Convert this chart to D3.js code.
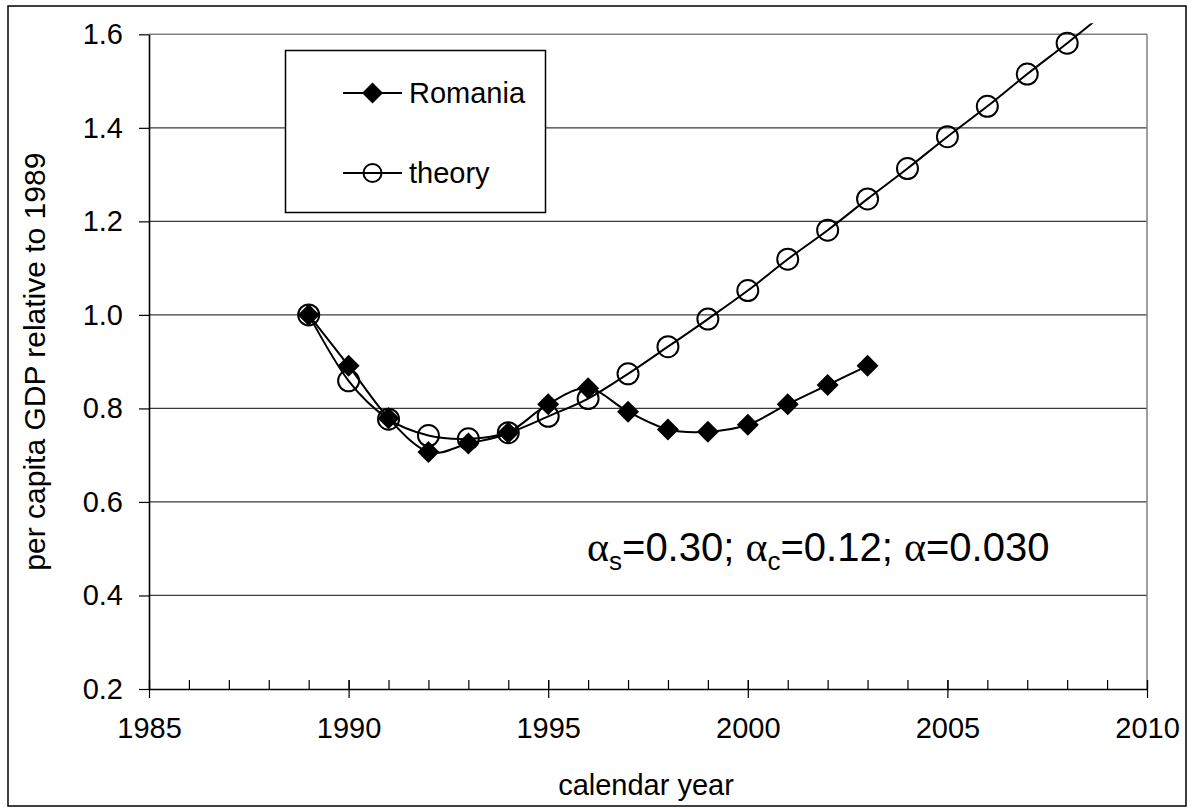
<!DOCTYPE html>
<html>
<head>
<meta charset="utf-8">
<script src="https://cdn.jsdelivr.net/npm/d3@7"></script>
<style>
  html, body { margin: 0; padding: 0; background: #fff; }
  svg { display: block; }
  text { font-family: "Liberation Sans", Arial, sans-serif; fill: #000; }
</style>
</head>
<body>
<svg id="chart" width="1192" height="809"></svg>
<script>
// Per capita GDP relative to 1989: observed (Romania) and model (theory)
const romaniaYears = [1989, 1990, 1991, 1992, 1993, 1994, 1995, 1996, 1997, 1998, 1999, 2000, 2001, 2002, 2003];
const romaniaValues = [1.000, 0.891, 0.779, 0.707, 0.725, 0.748, 0.809, 0.843, 0.793, 0.755, 0.750, 0.765, 0.809, 0.850, 0.891];

const theoryYears = [1989, 1990, 1991, 1992, 1993, 1994, 1995, 1996, 1997, 1998, 1999, 2000, 2001, 2002, 2003, 2004, 2005, 2006, 2007, 2008, 2009];
const theoryValues = [1.000, 0.859, 0.777, 0.742, 0.735, 0.748, 0.783, 0.821, 0.874, 0.932, 0.991, 1.052, 1.119, 1.181, 1.248, 1.313, 1.381, 1.446, 1.515, 1.581, 1.650];

const xTickValues = [1985, 1990, 1995, 2000, 2005, 2010];
const xMinorTickValues = d3.range(1985, 2011);
const yTickValues = [0.2, 0.4, 0.6, 0.8, 1.0, 1.2, 1.4, 1.6];

const seriesNames = ["Romania", "theory"];
const xTitle = "calendar year";
const yTitle = "per capita GDP relative to 1989";

const FONT = 29;
const svg = d3.select("#chart");
const plot = { left: 149, right: 1147, top: 34.3, bottom: 689 };

const x = d3.scaleLinear().domain([1985, 2010]).range([plot.left, plot.right]);
const y = d3.scaleLinear().domain([0.2, 1.6]).range([plot.bottom, plot.top]);

// Outer chart frame
svg.append("rect")
  .attr("x", 8).attr("y", 6).attr("width", 1178).attr("height", 800)
  .attr("fill", "#fff").attr("stroke", "#000").attr("stroke-width", 1.5);

// Horizontal gridlines
svg.append("g")
  .selectAll("line")
  .data(yTickValues.filter(v => v > 0.2))
  .join("line")
  .attr("x1", plot.left).attr("x2", plot.right)
  .attr("y1", d => y(d)).attr("y2", d => y(d))
  .attr("stroke", d => d === 1.6 ? "#808080" : "#3a3a3a")
  .attr("stroke-width", d => d === 1.6 ? 1.5 : 1.2);

// Right border of plot area
svg.append("line")
  .attr("x1", plot.right).attr("x2", plot.right)
  .attr("y1", plot.top).attr("y2", plot.bottom)
  .attr("stroke", "#808080").attr("stroke-width", 1.5);

// X axis: minor ticks inside, major ticks crossing
const xMinor = svg.append("g")
  .attr("transform", `translate(0,${plot.bottom})`)
  .call(d3.axisBottom(x).tickValues(xMinorTickValues).tickSize(-9).tickFormat(""));
xMinor.select(".domain").remove();
xMinor.selectAll(".tick line").attr("stroke", "#000").attr("stroke-width", 1.2);

const xAxis = svg.append("g")
  .attr("transform", `translate(0,${plot.bottom})`)
  .call(d3.axisBottom(x).tickValues(xTickValues).tickFormat(d3.format("d"))
    .tickSizeInner(9).tickSizeOuter(0).tickPadding(19));
xAxis.select(".domain").attr("stroke", "#000").attr("stroke-width", 1.6);
xAxis.selectAll(".tick line").attr("y1", -9).attr("stroke", "#000").attr("stroke-width", 1.2);
xAxis.selectAll(".tick text").attr("font-size", FONT).style("font-family", "'Liberation Sans', Arial, sans-serif");

// Y axis
const yAxis = svg.append("g")
  .attr("transform", `translate(${plot.left},0)`)
  .call(d3.axisLeft(y).tickValues(yTickValues).tickFormat(d3.format(".1f"))
    .tickSizeInner(10).tickSizeOuter(0).tickPadding(16));
yAxis.select(".domain").attr("stroke", "#000").attr("stroke-width", 1.6);
yAxis.selectAll(".tick line").attr("stroke", "#000").attr("stroke-width", 1.2);
yAxis.selectAll(".tick text").attr("font-size", FONT).style("font-family", "'Liberation Sans', Arial, sans-serif");

// Axis titles
svg.append("text")
  .attr("x", (plot.left + plot.right) / 2 - 2).attr("y", 795)
  .attr("text-anchor", "middle").attr("font-size", FONT)
  .text(xTitle);
svg.append("text")
  .attr("transform", `translate(45,${(plot.top + plot.bottom) / 2}) rotate(-90)`)
  .attr("text-anchor", "middle").attr("font-size", 30)
  .text(yTitle);

// Clip for the series (the theory curve runs slightly past the top of the plot)
svg.append("clipPath").attr("id", "seriesClip")
  .append("rect")
  .attr("x", plot.left).attr("y", plot.top - 11)
  .attr("width", plot.right - plot.left).attr("height", plot.bottom - plot.top + 11);

const series = svg.append("g").attr("clip-path", "url(#seriesClip)");
const smooth = d3.line().curve(d3.curveCatmullRom.alpha(0));

const theoryPts = theoryYears.map((yr, i) => [x(yr), y(theoryValues[i])]);
const romaniaPts = romaniaYears.map((yr, i) => [x(yr), y(romaniaValues[i])]);

const diamond = (s) => `M0,${-s}L${s},0L0,${s}L${-s},0Z`;

// Theory: smoothed line with open circles
series.append("path")
  .attr("d", smooth(theoryPts))
  .attr("fill", "none").attr("stroke", "#000").attr("stroke-width", 2);
series.append("g")
  .selectAll("circle")
  .data(theoryPts)
  .join("circle")
  .attr("cx", d => d[0]).attr("cy", d => d[1]).attr("r", 10.5)
  .attr("fill", "none").attr("stroke", "#000").attr("stroke-width", 2);

// Romania: smoothed line with filled diamonds
series.append("path")
  .attr("d", smooth(romaniaPts))
  .attr("fill", "none").attr("stroke", "#000").attr("stroke-width", 2);
series.append("g")
  .selectAll("path")
  .data(romaniaPts)
  .join("path")
  .attr("transform", d => `translate(${d[0]},${d[1]})`)
  .attr("d", diamond(11))
  .attr("fill", "#000");

// Parameter annotation
const greek = "'Liberation Serif', 'Times New Roman', serif";
const note = svg.append("text")
  .attr("x", 587).attr("y", 561).attr("font-size", 40);
note.append("tspan").style("font-family", greek).attr("font-size", 42).text("α");
note.append("tspan").attr("font-size", 26).attr("dy", 9).text("s");
note.append("tspan").attr("dy", -9).text("=0.30; ");
note.append("tspan").style("font-family", greek).attr("font-size", 42).text("α");
note.append("tspan").attr("font-size", 26).attr("dy", 9).text("c");
note.append("tspan").attr("dy", -9).text("=0.12; ");
note.append("tspan").style("font-family", greek).attr("font-size", 42).text("α");
note.append("tspan").text("=0.030");

// Legend
const legend = svg.append("g");
legend.append("rect")
  .attr("x", 285.5).attr("y", 50.5).attr("width", 260).attr("height", 162)
  .attr("fill", "#fff").attr("stroke", "#000").attr("stroke-width", 1.5);
const legendRows = [
  { name: seriesNames[0], cy: 93, marker: "diamond" },
  { name: seriesNames[1], cy: 173, marker: "circle" }
];
legendRows.forEach(row => {
  legend.append("line")
    .attr("x1", 343).attr("x2", 402).attr("y1", row.cy).attr("y2", row.cy)
    .attr("stroke", "#000").attr("stroke-width", 2);
  if (row.marker === "diamond") {
    legend.append("path")
      .attr("transform", `translate(372.5,${row.cy})`)
      .attr("d", diamond(10.5)).attr("fill", "#000");
  } else {
    legend.append("circle")
      .attr("cx", 372.5).attr("cy", row.cy).attr("r", 9)
      .attr("fill", "none").attr("stroke", "#000").attr("stroke-width", 2);
  }
  legend.append("text")
    .attr("x", 409).attr("y", row.cy).attr("dy", "0.35em")
    .attr("font-size", FONT).text(row.name);
});
</script>
</body>
</html>
